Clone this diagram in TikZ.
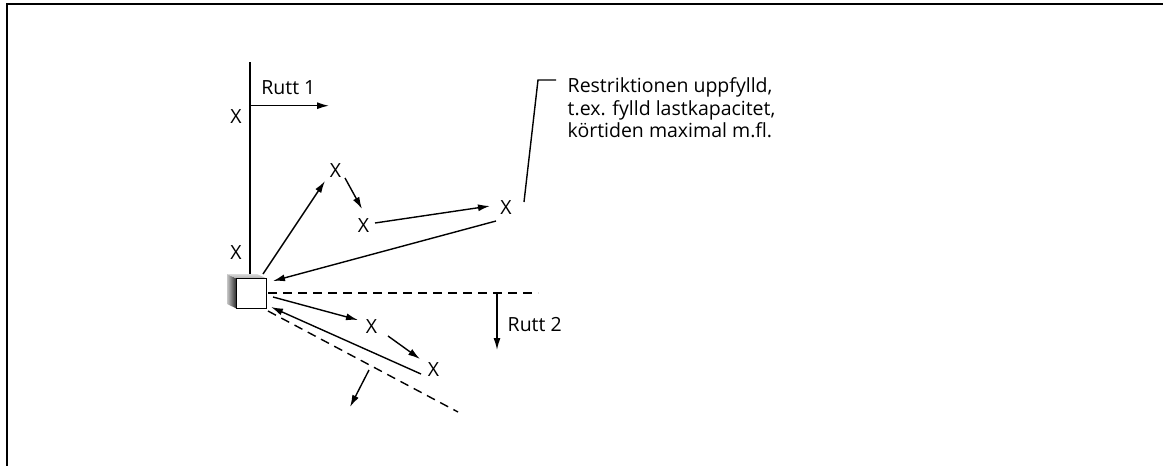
\documentclass[tikz,border=0pt]{standalone}
\usepackage{fontspec}
\setmainfont{Open Sans}
\usetikzlibrary{arrows.meta}
\begin{document}
\begin{tikzpicture}[x=1pt,y=-1pt,
  line width=1.4pt,
  arr/.style={-{Latex[length=12pt,width=7pt]}},
  dsh/.style={dash pattern=on 9pt off 6pt},
  lbl/.style={font=\fontsize{19.5}{22.5}\selectfont, inner sep=0pt},
  stop/.style={lbl, anchor=base},
]
\useasboundingbox (0,0) rectangle (1163,466);
% frame
\draw[line width=2pt] (7,466) -- (7,4) -- (1163,4);

% depot with shaded depth
\shade[left color=gray!45, right color=black!85] (227,274) -- (236.5,278.5) -- (236.5,308.5) -- (227,304) -- cycle;
\shade[top color=gray!30, bottom color=gray!65] (227,274) -- (257,274) -- (266.5,278.5) -- (236.5,278.5) -- cycle;
\node[draw, fill=white, minimum size=30pt, inner sep=0pt, line width=1.4pt] (depot) at (251.5,293.5) {};

% stops
\node[stop] (xa) at (236,123) {X};
\node[stop] (xb) at (236,259) {X};
\node[stop] (x1) at (335.5,177) {X};
\node[stop] (x2) at (363.5,232) {X};
\node[stop] (x3) at (506,214) {X};
\node[stop] (x4) at (371.5,333) {X};
\node[stop] (x5) at (433.5,376) {X};

% route 1 boundary and direction
\coordinate (axisTop) at (250,62);
\coordinate (axisBot) at (250,274);
\draw (axisTop) -- (axisBot);
\coordinate (r1a) at (250,105.7);
\coordinate (r1b) at (329,105.7);
\draw[arr] (r1a) -- (r1b);
\node[lbl, anchor=base west] (r1) at (260.7,94.7) {Rutt 1};

% route 1 trips
\coordinate (d1) at (263,274);
\coordinate (x1in) at (325,181);
\draw[arr] (d1) -- (x1in);
\coordinate (x1out) at (345,178);
\coordinate (x2in) at (362,209);
\draw[arr] (x1out) -- (x2in);
\coordinate (x2out) at (375,223);
\coordinate (x3in) at (490,206);
\draw[arr] (x2out) -- (x3in);
\coordinate (x3out) at (496,221);
\coordinate (d2) at (273,281);
\draw[arr] (x3out) -- (d2);

% note
\coordinate (n1) at (524,202);
\coordinate (n2) at (538,80);
\coordinate (n3) at (556,80);
\draw (n1) -- (n2) -- (n3);
\node[lbl, anchor=north west, align=left] (note) at (567,77)
  {Restriktionen uppfylld,\\t.ex. fylld lastkapacitet,\\körtiden maximal m.fl.};

% route 2 boundary and direction
\coordinate (h1) at (268,293);
\coordinate (h2) at (538,293);
\draw[dsh] (h1) -- (h2);
\coordinate (r2a) at (497,293);
\coordinate (r2b) at (497,350);
\draw[arr] (r2a) -- (r2b);
\node[lbl, anchor=base west] (r2) at (507,331) {Rutt 2};

% route 2 trips
\coordinate (d3) at (273,297);
\coordinate (x4in) at (358,320);
\draw[arr] (d3) -- (x4in);
\coordinate (x4out) at (388,336);
\coordinate (x5in) at (420,359);
\draw[arr] (x4out) -- (x5in);
\coordinate (x5out) at (421,374);
\coordinate (d4) at (271,307);
\draw[arr] (x5out) -- (d4);

% next sector boundary and direction
\coordinate (g1) at (268,311);
\coordinate (g2) at (458,412);
\draw[dsh] (g1) -- (g2);
\coordinate (r3a) at (369,370);
\coordinate (r3b) at (350,407);
\draw[arr] (r3a) -- (r3b);
\end{tikzpicture}
\end{document}
